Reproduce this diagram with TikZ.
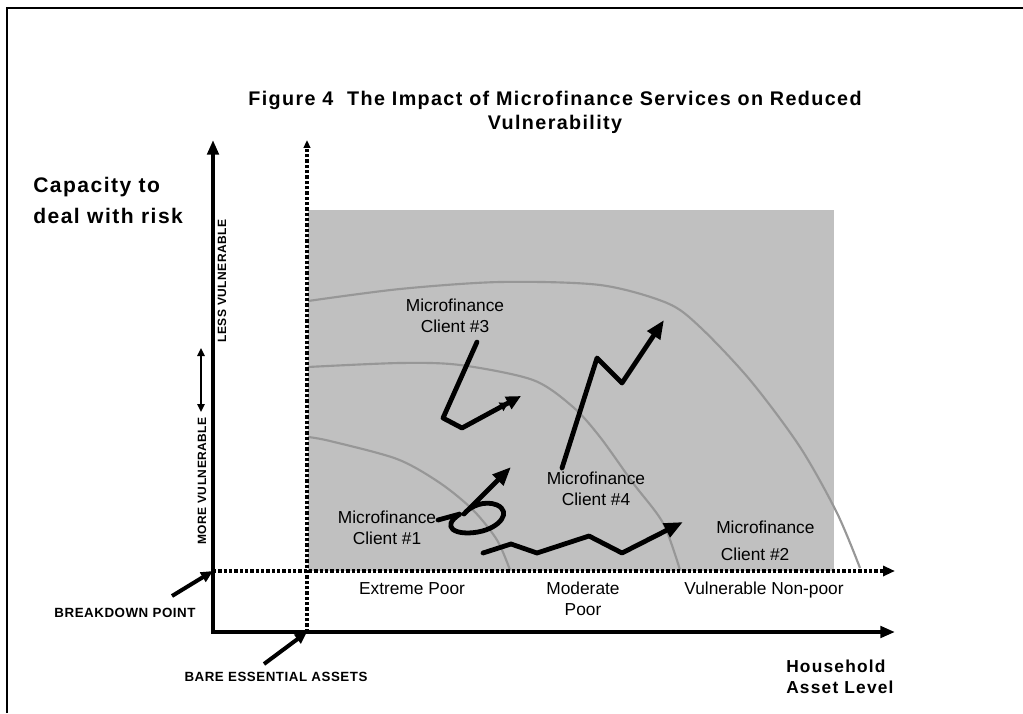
\documentclass[tikz,border=0pt]{standalone}
\usepackage{fontspec}
\setmainfont{Liberation Sans}
\newfontfamily\spacedfont[LetterSpace=4]{Liberation Sans}
\newfontfamily\widefont[LetterSpace=7]{Liberation Sans}
\usetikzlibrary{arrows.meta}
\definecolor{zonegray}{HTML}{C0C0C0}
\definecolor{curvegray}{HTML}{979797}

\begin{document}
\begin{tikzpicture}[x=0.75pt,y=-0.75pt,
    txt/.style={inner sep=0pt,align=center,font=\fontsize{13}{15.75}\selectfont},
    caps/.style={inner sep=0pt,font=\spacedfont\bfseries\fontsize{10}{12}\selectfont},
    sidecaps/.style={inner sep=0pt,rotate=90,font=\spacedfont\bfseries\fontsize{9}{11}\selectfont},
    axlbl/.style={inner sep=0pt,align=left,font=\widefont\bfseries\fontsize{15.8}{23.25}\selectfont},
    axis/.style={line width=3pt,{Triangle[length=11pt,width=8.5pt]}-{Triangle[length=11pt,width=8.5pt]}},
    guide/.style={line width=2.4pt,dash pattern=on 2.6pt off 1.4pt},
    level/.style={curvegray,line width=1.6pt},
    track/.style={line width=3.6pt,line join=round,line cap=round,-{Triangle[length=14pt,width=11pt]}},
    pointer/.style={line width=3pt,-{Triangle[length=9pt,width=8pt]}}]

\useasboundingbox (0,0) rectangle (1023,713);
\draw[line width=1.6pt] (7,713) -- (7,8) -- (1023,8);

\node[inner sep=0pt,anchor=north,align=center,font=\widefont\bfseries\fontsize{14.8}{18}\selectfont]
    (title) at (555,91) {Figure 4\ \ The Impact of Microfinance Services on Reduced\\Vulnerability};

\fill[zonegray] (308,210) rectangle (834,571);

\draw[level] plot[smooth] coordinates {(308,301) (400,289) (500,282) (600,285) (667,303) (700,327) (750,380) (800,447) (837,513) (860,568)};
\draw[level] plot[smooth] coordinates {(308,367) (400,363) (460,365) (533,380) (573,407) (600,437) (633,483) (663,523) (680,570)};
\draw[level] plot[smooth] coordinates {(308,437) (330,441) (397,459) (440,483) (473,510) (497,540) (510,570)};

\coordinate (O) at (213,632);
\coordinate (ytip) at (213,140);
\coordinate (xtip) at (895,632);
\coordinate (bp) at (213,571);
\coordinate (bptip) at (895,571);
\coordinate (be) at (307,632);
\coordinate (betip) at (307,140);

\draw[guide,-{Triangle[length=9pt,width=7.5pt]}] (bp) -- (bptip);
\draw[guide,-{Triangle[length=6pt,width=5pt]}] (be) -- (betip);
\draw[axis] (ytip) -- (O) -- (xtip);

\node[axlbl,anchor=north west] (capacity) at (33,177) {Capacity to\\deal with risk};
\node[axlbl,anchor=north west,font=\widefont\bfseries\fontsize{13}{15.75}\selectfont] (assets) at (786,660) {Household\\Asset Level};

\node[sidecaps] (less) at (222,281) {LESS VULNERABLE};
\node[sidecaps] (more) at (202,481) {MORE VULNERABLE};
\draw[line width=2.2pt,{Triangle[length=6pt,width=5.5pt]}-{Triangle[length=6pt,width=5.5pt]}] (201,348) -- (201,412);

\node[caps,anchor=base] (breakdown) at (125,617) {BREAKDOWN POINT};
\node[caps,anchor=base] (bare) at (276,681) {BARE ESSENTIAL ASSETS};
\draw[pointer] (172,596) -- (bp);
\draw[pointer] (264,664) -- (be);

\node[txt,anchor=base] (extreme) at (412,594) {Extreme Poor};
\node[txt,anchor=north] (moderate) at (583,581.5) {Moderate\\Poor};
\node[txt,anchor=base] (nonpoor) at (764,594) {Vulnerable Non-poor};

\node[txt,anchor=north] (client3) at (455,298.5) {Microfinance\\Client \#3};
\node[txt,anchor=north] (client4) at (596,471.5) {Microfinance\\Client \#4};
\node[txt,anchor=north] (client1) at (387,510.5) {Microfinance\\Client \#1};
\node[txt,anchor=north west,align=left,font=\fontsize{13}{20.25}\selectfont] (client2) at (716,520.5) {Microfinance\\\hspace*{3.5pt}Client \#2};

\draw[track,-{Triangle[length=6pt,width=7pt]Triangle[length=11pt,width=10pt]}] (477,342) -- (443,418) -- (462,428) -- (521,396);
\draw[track] (562,468) -- (597,358) -- (622,383) -- (664,320);
\draw[track] (438,520) -- (460,514) .. controls (440,527) and (455,536) .. (478,532)
    .. controls (500,528) and (512,512) .. (497,505) .. controls (485,500) and (470,506) .. (464,514) -- (511,467);
\draw[track] (483,553) -- (511,544) -- (537,553) -- (589,536) -- (622,553) -- (683,522);
\end{tikzpicture}
\end{document}
